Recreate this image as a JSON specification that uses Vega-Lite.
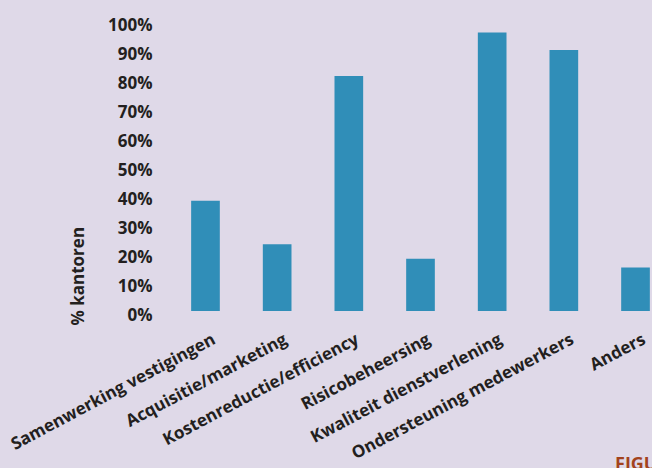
{
  "$schema": "https://vega.github.io/schema/vega-lite/v6.json",
  "autosize": {"type": "none"},
  "padding": {"left": 189, "top": 21, "right": 0, "bottom": 157},
  "width": 463,
  "height": 290,
  "background": "#dfd9e8",
  "title": {
    "text": "FIGUUR 1",
    "orient": "bottom",
    "anchor": "start",
    "frame": "group",
    "dx": 426,
    "offset": -6,
    "font": "Open Sans",
    "fontSize": 18,
    "fontWeight": "bold",
    "color": "#a3431d"
  },
  "config": {
    "view": {"stroke": null},
    "font": "Open Sans"
  },
  "data": {
    "values": [
      {"categorie": "Samenwerking vestigingen", "pct": 38},
      {"categorie": "Acquisitie/marketing", "pct": 23},
      {"categorie": "Kostenreductie/efficiency", "pct": 81},
      {"categorie": "Risicobeheersing", "pct": 18},
      {"categorie": "Kwaliteit dienstverlening", "pct": 96},
      {"categorie": "Ondersteuning medewerkers", "pct": 90},
      {"categorie": "Anders", "pct": 15}
    ]
  },
  "mark": {"type": "bar", "color": "#308eb8"},
  "encoding": {
    "x": {
      "field": "categorie",
      "type": "nominal",
      "sort": null,
      "scale": {"paddingInner": 0.6, "paddingOuter": 0.03},
      "axis": {
        "title": null,
        "domain": false,
        "ticks": false,
        "labelAngle": -28,
        "labelAlign": "right",
        "labelBaseline": "top",
        "labelPadding": 20,
        "labelOffset": 5,
        "labelFont": "Open Sans",
        "labelFontSize": 17,
        "labelFontWeight": "bold",
        "labelColor": "#231f20",
        "labelLimit": 400
      }
    },
    "y": {
      "field": "pct",
      "type": "quantitative",
      "scale": {"domain": [0, 100], "nice": false},
      "axis": {
        "title": "% kantoren",
        "values": [0, 10, 20, 30, 40, 50, 60, 70, 80, 90, 100],
        "labelExpr": "datum.value + '%'",
        "grid": false,
        "domain": false,
        "ticks": false,
        "labelPadding": 37,
        "labelOffset": 4,
        "labelFont": "Open Sans",
        "labelFontSize": 17,
        "labelFontWeight": "bold",
        "labelColor": "#231f20",
        "titleFont": "Open Sans",
        "titleFontSize": 17,
        "titleFontWeight": "bold",
        "titleColor": "#231f20",
        "titleAngle": -90,
        "titleAlign": "left",
        "titleBaseline": "alphabetic",
        "titleX": -106,
        "titleY": 304
      }
    }
  }
}
